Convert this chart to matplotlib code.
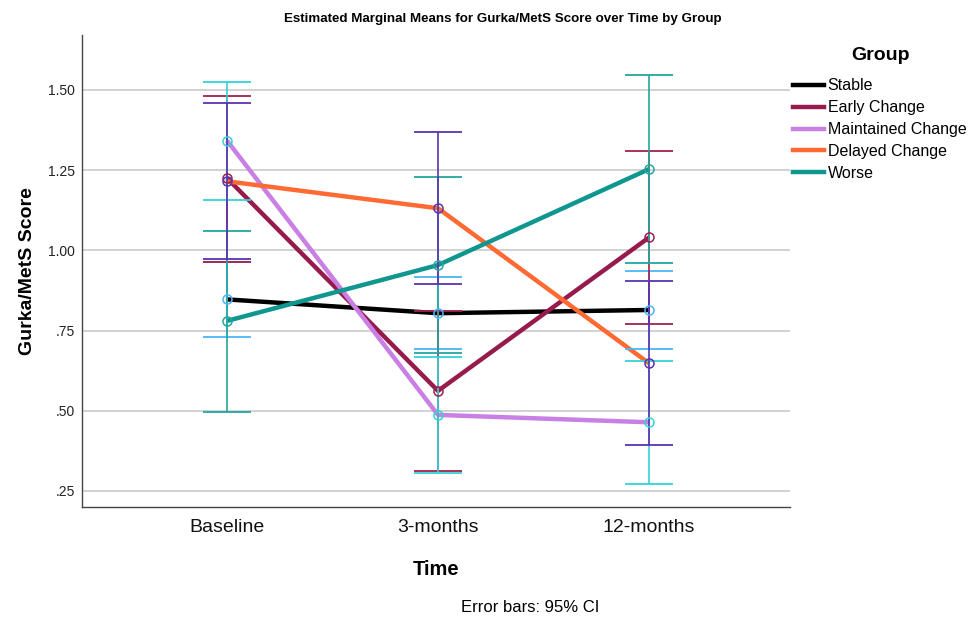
import matplotlib
matplotlib.use("Agg")
import matplotlib.pyplot as plt
from matplotlib.lines import Line2D
from matplotlib.ticker import FuncFormatter

plt.rcParams['font.family'] = ['Liberation Sans', 'DejaVu Sans']

times = ['Baseline', '3-months', '12-months']
groups = ['Stable', 'Early Change', 'Maintained Change', 'Delayed Change', 'Worse']

# estimated marginal means
means = {
    'Stable':            [0.847, 0.804, 0.814],
    'Early Change':      [1.225, 0.562, 1.040],
    'Maintained Change': [1.342, 0.487, 0.464],
    'Delayed Change':    [1.215, 1.131, 0.648],
    'Worse':             [0.780, 0.954, 1.253],
}
# 95% CI bounds
ci_low = {
    'Stable':            [0.731, 0.692, 0.692],
    'Early Change':      [0.965, 0.313, 0.770],
    'Maintained Change': [1.157, 0.307, 0.272],
    'Delayed Change':    [0.972, 0.894, 0.392],
    'Worse':             [0.497, 0.680, 0.959],
}
ci_high = {
    'Stable':            [0.963, 0.916, 0.936],
    'Early Change':      [1.481, 0.811, 1.310],
    'Maintained Change': [1.525, 0.667, 0.656],
    'Delayed Change':    [1.458, 1.368, 0.904],
    'Worse':             [1.061, 1.228, 1.547],
}

line_colors = {
    'Stable': '#000000',
    'Early Change': '#961b4c',
    'Maintained Change': '#c97fe4',
    'Delayed Change': '#ff6a33',
    'Worse': '#0e968f',
}
# SPSS kept the default colours for markers / error bars
bar_colors = {
    'Stable': '#4cb4f7',
    'Early Change': '#a1204f',
    'Maintained Change': '#34d2d6',
    'Delayed Change': '#5b33b0',
    'Worse': '#24a69e',
}

fig = plt.figure(figsize=(9.68, 6.18), dpi=100)
ax = fig.add_axes([82/968, 1-507/618, (790-82)/968, (507-35)/618])

x = list(range(len(times)))

for g in groups:
    ax.plot(x, means[g], color=line_colors[g], lw=3.2, zorder=3, solid_capstyle='butt')

for g in ['Stable', 'Early Change', 'Maintained Change', 'Worse', 'Delayed Change']:
    m = means[g]
    lo = [m[i] - ci_low[g][i] for i in x]
    hi = [ci_high[g][i] - m[i] for i in x]
    ax.errorbar(x, m, yerr=[lo, hi], fmt='none', ecolor=bar_colors[g],
                elinewidth=1.2, capsize=17, capthick=1.3, zorder=4)

for g in groups:
    ax.plot(x, means[g], ls='none', marker='o', ms=6.5, mfc='none',
            mec=bar_colors[g], mew=1.1, zorder=5)

ax.set_xlim(-0.687, 2.668)
ax.set_ylim(0.2, 1.671)
ax.set_yticks([0.25, 0.5, 0.75, 1.0, 1.25, 1.5])
ax.yaxis.set_major_formatter(FuncFormatter(lambda v, p: ('%.2f' % v).lstrip('0')))
ax.set_xticks(x)
ax.set_xticklabels(times, fontsize=14)
ax.tick_params(axis='y', length=0, pad=5, labelsize=10, labelcolor='#222222')
ax.tick_params(axis='x', length=0, pad=9, labelcolor='#111111')
ax.grid(axis='y', color='#c6c6c6', lw=1.1)
ax.set_axisbelow(True)

for s in ['top', 'right']:
    ax.spines[s].set_visible(False)
for s in ['left', 'bottom']:
    ax.spines[s].set_color('#444444')
    ax.spines[s].set_linewidth(1.0)

ax.set_ylabel('Gurka/MetS Score', fontsize=14, fontweight='bold', labelpad=9)
ax.set_xlabel('Time', fontsize=14.5, fontweight='bold', labelpad=17)

fig.text(503/968, 1-19/618, 'Estimated Marginal Means for Gurka/MetS Score over Time by Group',
         ha='center', va='center', fontsize=9.6, fontweight='bold')
fig.text(530/968, 1-608/618, 'Error bars: 95% CI', ha='center', va='center', fontsize=12)

fig.text(880/968, 1-55/618, 'Group', ha='center', va='center', fontsize=14, fontweight='bold')
handles = [Line2D([0], [0], color=line_colors[g], lw=3.2) for g in groups]
leg = fig.legend(handles, groups, loc='upper left', bbox_to_anchor=(787/968, 1-72/618),
                 frameon=False, fontsize=11.5, handlelength=1.9,
                 handletextpad=0.25, labelspacing=0.43, borderaxespad=0)

fig.savefig('out.png', dpi=100)
